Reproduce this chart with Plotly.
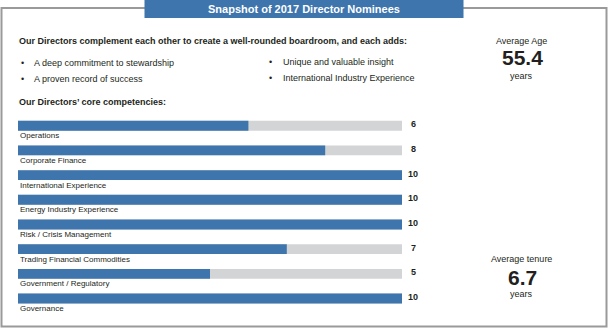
import plotly.graph_objects as go

W, H = 609, 329

title_text = "Snapshot of 2017 Director Nominees"
header_text = "Our Directors complement each other to create a well-rounded boardroom, and each adds:"
bullets_left = ["A deep commitment to stewardship", "A proven record of success"]
bullets_right = ["Unique and valuable insight", "International Industry Experience"]
section_text = "Our Directors\u2019 core competencies:"

competencies = ["Operations", "Corporate Finance", "International Experience",
                "Energy Industry Experience", "Risk / Crisis Management",
                "Trading Financial Commodities", "Government / Regulatory", "Governance"]
counts = [6, 8, 10, 10, 10, 7, 5, 10]
total_directors = 10

avg_age_label = "Average Age"
avg_age = 55.4
avg_tenure_label = "Average tenure"
avg_tenure = 6.7
unit_label = "years"

BLUE = "#3e75ad"
GRAY = "#d3d4d6"
TXT = "#231f20"
SANS = "Liberation Sans, Arial, Helvetica, sans-serif"


def px(x):
    return x / W


def py(y):
    return 1 - y / H


fig = go.Figure()
fig.add_trace(go.Bar(
    y=competencies, x=[total_directors] * len(competencies), orientation="h",
    marker=dict(color=GRAY, line=dict(width=0)), width=0.4, hoverinfo="skip",
))
fig.add_trace(go.Bar(
    y=competencies, x=counts, orientation="h",
    marker=dict(color=BLUE, line=dict(width=0)), width=0.4,
))

# plot area geometry: x 0..10 -> 18..402 px ; categories centres 125.7 .. 298.5 px
step = (298.5 - 125.7) / 7
top_px = 125.7 - step / 2
bot_px = 298.5 + step / 2

fig.update_layout(
    width=W, height=H, margin=dict(l=0, r=0, t=0, b=0),
    paper_bgcolor="white", plot_bgcolor="white",
    barmode="overlay", showlegend=False,
    xaxis=dict(domain=[px(18), px(402)], range=[0, total_directors], visible=False, fixedrange=True),
    yaxis=dict(domain=[py(bot_px), py(top_px)], range=[len(competencies) - 0.5, -0.5],
               visible=False, type="category", categoryorder="array",
               categoryarray=competencies, fixedrange=True),
)

shapes = [
    dict(type="rect", xref="paper", yref="paper", x0=px(1.5), x1=px(606.5), y0=py(326.5), y1=py(8),
         line=dict(color="#9a9a9a", width=2), fillcolor="rgba(0,0,0,0)", layer="below"),
    dict(type="rect", xref="paper", yref="paper", x0=px(144.5), x1=px(463.5), y0=py(18), y1=py(0),
         line=dict(width=0), fillcolor=BLUE, layer="above"),
]

ann = []
ann.append(dict(text="<b>" + title_text + "</b>", xref="paper", yref="paper", x=px(304), y=py(9),
                xanchor="center", yanchor="middle", showarrow=False,
                font=dict(family=SANS, size=11, color="white")))
ann.append(dict(text="<b>" + header_text + "</b>", xref="paper", yref="paper", x=px(17), y=py(41),
                xanchor="left", yanchor="middle", showarrow=False,
                font=dict(family=SANS, size=9, color=TXT)))
for i, t in enumerate(bullets_left):
    yy = 63 + i * 16
    ann.append(dict(text="\u2022", xref="paper", yref="paper", x=px(22), y=py(yy), xanchor="center",
                    yanchor="middle", showarrow=False, font=dict(family=SANS, size=9, color=TXT)))
    ann.append(dict(text=t, xref="paper", yref="paper", x=px(32), y=py(yy), xanchor="left",
                    yanchor="middle", showarrow=False, font=dict(family=SANS, size=9, color=TXT)))
for i, t in enumerate(bullets_right):
    yy = 62 + i * 16
    ann.append(dict(text="\u2022", xref="paper", yref="paper", x=px(270), y=py(yy), xanchor="center",
                    yanchor="middle", showarrow=False, font=dict(family=SANS, size=9, color=TXT)))
    ann.append(dict(text=t, xref="paper", yref="paper", x=px(281), y=py(yy), xanchor="left",
                    yanchor="middle", showarrow=False, font=dict(family=SANS, size=9, color=TXT)))
ann.append(dict(text="<b>" + section_text + "</b>", xref="paper", yref="paper", x=px(17), y=py(102),
                xanchor="left", yanchor="middle", showarrow=False,
                font=dict(family=SANS, size=9, color=TXT)))

for c, v in zip(competencies, counts):
    ann.append(dict(text=c, xref="paper", yref="y", x=px(18), y=c, yshift=-10, xanchor="left",
                    yanchor="middle", showarrow=False, font=dict(family=SANS, size=8, color=TXT)))
    ann.append(dict(text="<b>" + str(v) + "</b>", xref="x", yref="y", x=total_directors, y=c,
                    xshift=11, yshift=1.5, xanchor="center", yanchor="middle", showarrow=False,
                    font=dict(family=SANS, size=9, color=TXT)))

for lbl, val, ys in [(avg_age_label, avg_age, (41, 58, 76)), (avg_tenure_label, avg_tenure, (259, 277, 294))]:
    ann.append(dict(text=lbl, xref="paper", yref="paper", x=px(521), y=py(ys[0]), xanchor="center",
                    yanchor="middle", showarrow=False, font=dict(family=SANS, size=9, color=TXT)))
    ann.append(dict(text="<b>" + f"{val:.1f}" + "</b>", xref="paper", yref="paper", x=px(522), y=py(ys[1]),
                    xanchor="center", yanchor="middle", showarrow=False,
                    font=dict(family=SANS, size=21, color=TXT)))
    ann.append(dict(text=unit_label, xref="paper", yref="paper", x=px(521), y=py(ys[2]), xanchor="center",
                    yanchor="middle", showarrow=False, font=dict(family=SANS, size=9, color=TXT)))

fig.update_layout(shapes=shapes, annotations=ann)
fig.write_html("out.html", config={"displayModeBar": False})
